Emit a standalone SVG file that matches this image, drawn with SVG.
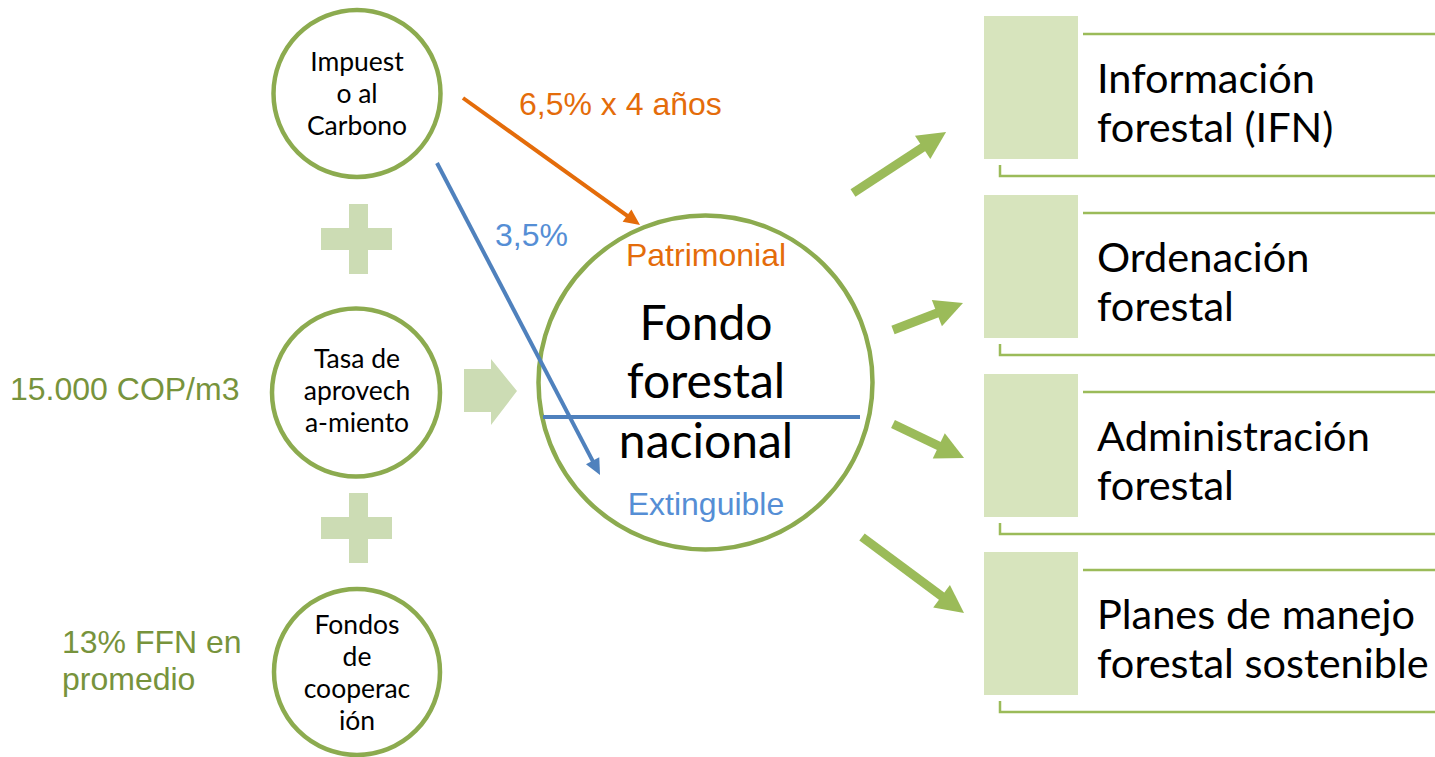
<svg xmlns="http://www.w3.org/2000/svg" width="1435" height="757" viewBox="0 0 1435 757">
<style>
.node{fill:#fff;stroke:#8cab4f;stroke-width:4.5}
.cal{font-family:Lato,"Open Sans",sans-serif;fill:#000}
.ar{font-family:"Liberation Sans",Arial,sans-serif}
.small{font-size:26.5px;text-anchor:middle}
.big{font-size:48px;text-anchor:middle}
.item{font-size:41.5px}
.lbl{font-size:32px}
.green{fill:#77933c}
.orange{fill:#e46c0a}
.blue{fill:#558ed5}
.pale{fill:#ccdcb4}
.box{fill:#d7e4bd}
.rule{fill:none;stroke:#9bbb59;stroke-width:2.5}
.garrow{stroke:#9bbb59;stroke-width:9;fill:none}
</style>
<defs>
<marker id="headG" markerUnits="userSpaceOnUse" orient="auto" refX="10" refY="0" markerWidth="40" markerHeight="40" overflow="visible"><path d="M0,-14 L28,0 L0,14 z" fill="#9bbb59"/></marker>
<marker id="headO" markerUnits="userSpaceOnUse" orient="auto" refX="6" refY="0" markerWidth="20" markerHeight="20" overflow="visible"><path d="M0,-7.5 L16,0 L0,7.5 z" fill="#e46c0a"/></marker>
<marker id="headB" markerUnits="userSpaceOnUse" orient="auto" refX="6" refY="0" markerWidth="20" markerHeight="20" overflow="visible"><path d="M0,-7.5 L16,0 L0,7.5 z" fill="#4f81bd"/></marker>
</defs>
<rect width="1435" height="757" fill="#fff"/>

<g id="plus1" class="pale"><path d="M349,204 H368 V228 H392 V250 H368 V274 H349 V250 H321 V228 H349 Z"/></g>
<g id="plus2" class="pale"><path d="M349,493 H368 V517 H392 V539 H368 V563 H349 V539 H321 V517 H349 Z"/></g>
<g id="flow-arrow" class="pale"><path d="M464,369 H491 V359 L517,391 L491,425 V412 H464 Z"/></g>

<g id="impuesto">
<circle class="node" cx="357" cy="93.5" r="83.5"/>
<text class="cal small" x="357" y="71">Impuest</text>
<text class="cal small" x="357" y="103">o al</text>
<text class="cal small" x="357" y="135">Carbono</text>
</g>
<g id="tasa">
<circle class="node" cx="356" cy="392.5" r="84"/>
<text class="cal small" x="357" y="368">Tasa de</text>
<text class="cal small" x="357" y="400">aprovech</text>
<text class="cal small" x="357" y="432">a-miento</text>
</g>
<g id="fondos">
<circle class="node" cx="357" cy="672" r="83"/>
<text class="cal small" x="357" y="634">Fondos</text>
<text class="cal small" x="357" y="666">de</text>
<text class="cal small" x="357" y="698">cooperac</text>
<text class="cal small" x="357" y="730">ión</text>
</g>

<g id="label-tasa"><text class="ar lbl green" x="10" y="400">15.000 COP/m3</text></g>
<g id="label-fondos">
<text class="ar lbl green" x="62" y="653">13% FFN en</text>
<text class="ar lbl green" x="62" y="690">promedio</text>
</g>

<g id="fondo-forestal">
<circle class="node" cx="705.5" cy="382.5" r="167"/>
<text class="ar lbl orange" x="706" y="266" text-anchor="middle">Patrimonial</text>
<text class="cal big" x="706" y="340">Fondo</text>
<text class="cal big" x="706" y="398">forestal</text>
<text class="cal big" x="706" y="458">nacional</text>
<line x1="543" y1="417" x2="860" y2="417" stroke="#4f81bd" stroke-width="4"/>
<text class="ar lbl blue" x="706" y="515" text-anchor="middle">Extinguible</text>
</g>

<g id="connectors">
<line x1="463" y1="98" x2="631.9" y2="219.2" stroke="#e46c0a" stroke-width="4" marker-end="url(#headO)"/>
<text class="ar lbl orange" x="519" y="115">6,5% x 4 años</text>
<line x1="437" y1="163" x2="595.4" y2="466.1" stroke="#4f81bd" stroke-width="4" marker-end="url(#headB)"/>
<text class="ar lbl blue" x="495" y="246">3,5%</text>
<line class="garrow" x1="853" y1="193" x2="931" y2="141.9" marker-end="url(#headG)"/>
<line class="garrow" x1="893" y1="330" x2="946.2" y2="309.5" marker-end="url(#headG)"/>
<line class="garrow" x1="893" y1="424" x2="947.8" y2="450.2" marker-end="url(#headG)"/>
<line class="garrow" x1="862" y1="537" x2="949.6" y2="602.2" marker-end="url(#headG)"/>
</g>

<g id="item-informacion">
<rect class="box" x="984" y="16" width="94" height="143"/>
<path class="rule" d="M1083,34 H1435 M1000,165 V176 H1435"/>
<text class="cal item" x="1097" y="93">Información</text>
<text class="cal item" x="1097" y="142">forestal (IFN)</text>
</g>
<g id="item-ordenacion">
<rect class="box" x="984" y="195" width="94" height="143"/>
<path class="rule" d="M1083,213 H1435 M1000,344 V355 H1435"/>
<text class="cal item" x="1097" y="272">Ordenación</text>
<text class="cal item" x="1097" y="321">forestal</text>
</g>
<g id="item-administracion">
<rect class="box" x="984" y="374" width="94" height="143"/>
<path class="rule" d="M1083,392 H1435 M1000,523 V534 H1435"/>
<text class="cal item" x="1097" y="451">Administración</text>
<text class="cal item" x="1097" y="500">forestal</text>
</g>
<g id="item-planes">
<rect class="box" x="984" y="552" width="94" height="143"/>
<path class="rule" d="M1083,570 H1435 M1000,701 V712 H1435"/>
<text class="cal item" x="1097" y="629">Planes de manejo</text>
<text class="cal item" x="1097" y="678">forestal sostenible</text>
</g>
</svg>
